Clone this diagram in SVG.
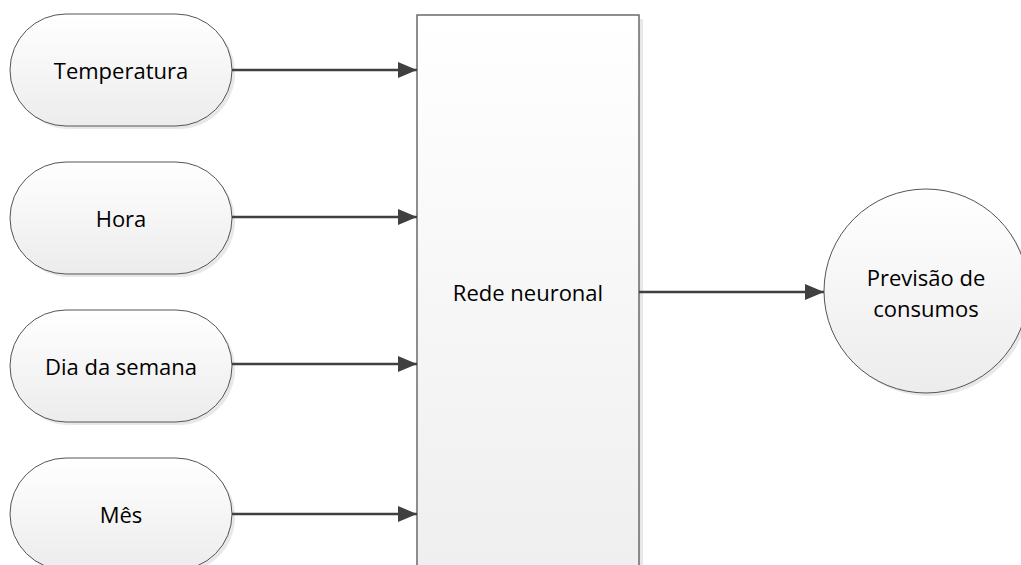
<svg xmlns="http://www.w3.org/2000/svg" width="1021" height="565" viewBox="0 0 1021 565">
<defs>
<linearGradient id="g" x1="0" y1="0" x2="0" y2="1">
<stop offset="0" stop-color="#ffffff"/>
<stop offset="1" stop-color="#ececec"/>
</linearGradient>
<linearGradient id="gr" gradientUnits="userSpaceOnUse" x1="0" y1="15" x2="0" y2="600">
<stop offset="0" stop-color="#ffffff"/>
<stop offset="1" stop-color="#eeeeee"/>
</linearGradient>
<marker id="arr" markerWidth="19" markerHeight="16" refX="19" refY="8" orient="auto" markerUnits="userSpaceOnUse">
<path d="M0,0 L19,8 L0,16 Z" fill="#404040"/>
</marker>
</defs>
<style>
.term{fill:url(#g);stroke:#555;stroke-width:1}
.shadow{fill:#e8e8e8}
.lbl{font-family:"Open Sans","Noto Sans",sans-serif;font-size:22px;fill:#000;text-anchor:middle;dominant-baseline:central}
.conn{stroke:#404040;stroke-width:2.5;fill:none;marker-end:url(#arr)}
</style>
<rect width="1021" height="565" fill="#fff"/>
<g id="temperatura">
<rect class="shadow" x="13" y="17" width="222" height="112" rx="56"/>
<rect class="term" x="10" y="14" width="222" height="112" rx="56"/>
<text class="lbl" x="121" y="70">Temperatura</text>
</g>
<g id="hora">
<rect class="shadow" x="13" y="165" width="222" height="112" rx="56"/>
<rect class="term" x="10" y="162" width="222" height="112" rx="56"/>
<text class="lbl" x="121" y="218">Hora</text>
</g>
<g id="dia-da-semana">
<rect class="shadow" x="13" y="313" width="222" height="112" rx="56"/>
<rect class="term" x="10" y="310" width="222" height="112" rx="56"/>
<text class="lbl" x="121" y="366">Dia da semana</text>
</g>
<g id="mes">
<rect class="shadow" x="13" y="461" width="222" height="112" rx="56"/>
<rect class="term" x="10" y="458" width="222" height="112" rx="56"/>
<text class="lbl" x="121" y="514">Mês</text>
</g>
<g id="rede-neuronal">
<rect class="shadow" x="421" y="19" width="222" height="600"/>
<rect x="417" y="15" width="222" height="600" fill="url(#gr)" stroke="#6a6a6a" stroke-width="1.5"/>
<text class="lbl" x="528" y="292">Rede neuronal</text>
</g>
<g id="previsao">
<circle class="shadow" cx="929" cy="294" r="102"/>
<circle cx="926" cy="291" r="102" fill="url(#g)" stroke="#555" stroke-width="1"/>
<text class="lbl" x="926" y="277">Previsão de</text>
<text class="lbl" x="926" y="308">consumos</text>
</g>
<g id="connectors">
<line class="conn" x1="232" y1="70" x2="417" y2="70"/>
<line class="conn" x1="232" y1="217" x2="417" y2="217"/>
<line class="conn" x1="232" y1="364" x2="417" y2="364"/>
<line class="conn" x1="232" y1="514" x2="417" y2="514"/>
<line class="conn" x1="639" y1="292" x2="824" y2="292"/>
</g>
</svg>
